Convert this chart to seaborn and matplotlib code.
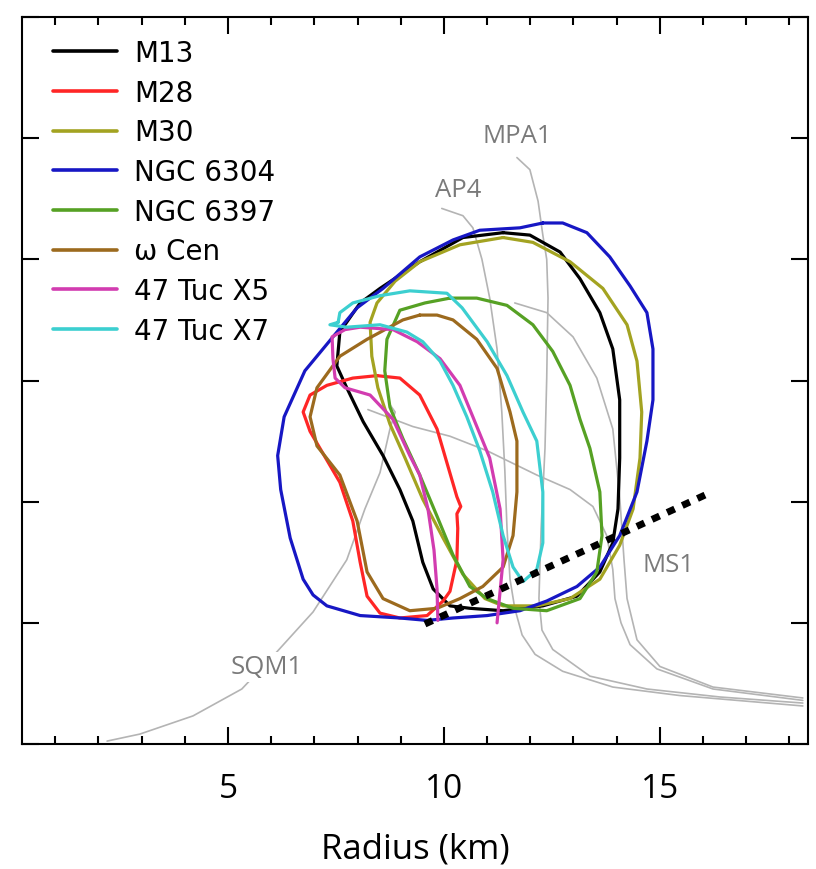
import numpy as np
import pandas as pd
import matplotlib
matplotlib.use("Agg")
import matplotlib.pyplot as plt
from matplotlib.ticker import MultipleLocator
from matplotlib.lines import Line2D
import seaborn as sns

# ---------------- data (Radius km, Mass Msun) ----------------
names = ["M13", "M28", "M30", "NGC 6304", "NGC 6397", "ω Cen", "47 Tuc X5", "47 Tuc X7"]
colors = ["#000000", "#ff2626", "#a3a321", "#1717c4", "#56a124", "#9c6a1e", "#d23cb0", "#3ccfd0"]
closed = [True, True, True, True, True, True, False, True]

m13_R = [11.37, 11.99, 12.69, 13.15, 13.61, 13.91, 14.07, 14.07, 14.03, 13.91, 13.61, 13.08, 12.29, 11.37,
         10.60, 10.14, 9.75, 9.51, 9.28, 8.98, 8.59, 8.13, 7.75, 7.52, 7.59, 8.06, 8.52, 9.44, 10.44]
m13_M = [2.11, 2.10, 2.03, 1.92, 1.78, 1.63, 1.42, 1.18, 0.97, 0.83, 0.71, 0.61, 0.57, 0.55,
         0.56, 0.57, 0.64, 0.75, 0.92, 1.05, 1.19, 1.33, 1.47, 1.56, 1.70, 1.82, 1.88, 1.99, 2.09]

m28_R = [8.45, 8.98, 9.44, 9.84, 10.07, 10.30, 10.39, 10.30, 10.32, 10.30, 10.14, 9.98, 9.61, 8.98,
         8.52, 8.22, 8.06, 7.89, 7.59, 7.13, 6.90, 6.74, 6.90, 7.29, 7.89]
m28_M = [1.52, 1.51, 1.44, 1.30, 1.16, 1.02, 0.98, 0.95, 0.89, 0.76, 0.63, 0.59, 0.53, 0.52,
         0.54, 0.61, 0.75, 0.92, 1.08, 1.22, 1.29, 1.37, 1.44, 1.48, 1.51]

m30_R = [11.37, 12.06, 12.92, 13.68, 14.24, 14.47, 14.58, 14.54, 14.38, 14.07, 13.61, 12.92, 12.15, 11.37,
         10.95, 10.44, 9.98, 9.51, 9.10, 8.75, 8.47, 8.33, 8.29, 8.45, 8.87, 9.44, 10.37]
m30_M = [2.09, 2.07, 1.99, 1.88, 1.73, 1.58, 1.37, 1.18, 0.97, 0.82, 0.68, 0.60, 0.57, 0.57,
         0.60, 0.70, 0.85, 1.01, 1.18, 1.32, 1.47, 1.60, 1.74, 1.82, 1.91, 1.99, 2.06]

n6304_R = [12.29, 12.75, 13.31, 13.84, 14.31, 14.70, 14.84, 14.84, 14.70, 14.47, 14.07, 13.61, 13.08, 12.38,
           11.76, 11.00, 10.21, 9.61, 8.98, 8.06, 7.29, 6.97, 6.74, 6.44, 6.22, 6.15, 6.30, 6.78, 7.43, 7.99,
           8.59, 9.44, 10.21, 10.83, 11.76]
n6304_M = [2.15, 2.15, 2.11, 2.01, 1.89, 1.78, 1.63, 1.42, 1.25, 1.04, 0.86, 0.73, 0.65, 0.59,
           0.55, 0.53, 0.52, 0.51, 0.52, 0.53, 0.57, 0.615, 0.68, 0.85, 1.05, 1.19, 1.35, 1.54, 1.68, 1.80,
           1.88, 2.01, 2.08, 2.12, 2.13]

n6397_R = [10.14, 10.76, 11.46, 12.06, 12.52, 12.92, 13.15, 13.38, 13.61, 13.66, 13.54, 13.15, 12.38, 11.60,
           11.00, 10.60, 10.21, 9.84, 9.44, 9.05, 8.75, 8.63, 8.68, 8.98, 9.56]
n6397_M = [1.84, 1.84, 1.81, 1.73, 1.62, 1.48, 1.34, 1.22, 1.04, 0.86, 0.71, 0.60, 0.55, 0.56,
           0.60, 0.65, 0.78, 0.94, 1.11, 1.26, 1.39, 1.54, 1.67, 1.79, 1.82]

wcen_R = [9.44, 9.84, 10.21, 10.76, 11.23, 11.53, 11.69, 11.69, 11.60, 11.37, 10.90, 10.37, 9.84, 9.21,
          8.59, 8.22, 7.99, 7.59, 7.06, 6.90, 7.06, 7.59, 8.22, 9.05]
wcen_M = [1.77, 1.77, 1.75, 1.67, 1.55, 1.37, 1.25, 1.04, 0.86, 0.73, 0.65, 0.60, 0.56, 0.55,
          0.60, 0.71, 0.92, 1.11, 1.23, 1.35, 1.47, 1.60, 1.67, 1.75]

x5_R = [9.86, 9.84, 9.77, 9.63, 9.44, 9.21, 8.82, 8.29, 7.71, 7.48, 7.43, 7.41, 7.71, 8.06, 8.82, 9.38,
        9.91, 10.37, 10.67, 11.06, 11.30, 11.37, 11.30, 11.23]
x5_M = [0.51, 0.64, 0.80, 0.97, 1.11, 1.19, 1.34, 1.44, 1.47, 1.51, 1.59, 1.68, 1.71, 1.72, 1.71, 1.66,
        1.59, 1.48, 1.35, 1.18, 0.97, 0.76, 0.63, 0.50]

x7_R = [7.55, 7.59, 7.89, 8.52, 9.21, 10.07, 10.42, 11.00, 11.46, 11.83, 12.15, 12.29, 12.29, 12.15, 11.83,
        11.60, 11.37, 11.13, 10.83, 10.53, 10.21, 9.91, 9.51, 9.14, 8.52, 7.75, 7.36]
x7_M = [1.74, 1.78, 1.82, 1.85, 1.87, 1.86, 1.80, 1.66, 1.52, 1.37, 1.25, 1.04, 0.83, 0.72, 0.67,
        0.73, 0.86, 1.04, 1.21, 1.35, 1.48, 1.58, 1.66, 1.70, 1.73, 1.72, 1.73]

contour_R = [m13_R, m28_R, m30_R, n6304_R, n6397_R, wcen_R, x5_R, x7_R]
contour_M = [m13_M, m28_M, m30_M, n6304_M, n6397_M, wcen_M, x5_M, x7_M]

# equation-of-state curves
ap4_R = [9.95, 10.44, 10.67, 10.88, 11.06, 11.23, 11.34, 11.41, 11.46, 11.53, 11.64, 11.81, 12.11, 12.75, 13.91, 15.46, 18.31]
ap4_M = [2.21, 2.18, 2.13, 2.00, 1.84, 1.63, 1.37, 1.13, 0.89, 0.68, 0.56, 0.45, 0.37, 0.30, 0.235, 0.20, 0.157]
mpa1_R = [11.69, 11.99, 12.18, 12.29, 12.38, 12.41, 12.38, 12.34, 12.25, 12.20, 12.27, 12.52, 13.38, 14.70, 16.39, 18.31]
mpa1_M = [2.42, 2.37, 2.24, 2.10, 2.00, 1.84, 1.51, 1.22, 0.89, 0.60, 0.47, 0.39, 0.28, 0.227, 0.194, 0.169]
ms1_R = [11.64, 12.38, 12.99, 13.54, 13.91, 14.07, 14.17, 14.24, 14.47, 15.00, 16.23, 18.31]
ms1_M = [1.82, 1.78, 1.68, 1.51, 1.30, 1.02, 0.76, 0.60, 0.43, 0.32, 0.235, 0.19]
eos5_R = [8.24, 9.28, 10.14, 11.00, 12.15, 12.92, 13.45, 13.77, 13.91, 13.96, 14.10, 14.31, 14.93, 16.23, 18.31]
eos5_M = [1.38, 1.31, 1.27, 1.21, 1.11, 1.05, 0.98, 0.86, 0.72, 0.60, 0.50, 0.41, 0.31, 0.227, 0.18]
sqm1_R = [2.20, 2.96, 4.19, 5.32, 6.13, 6.97, 7.75, 8.17, 8.52, 8.75, 8.87, 8.75]
sqm1_M = [0.012, 0.041, 0.116, 0.227, 0.38, 0.545, 0.76, 0.97, 1.12, 1.30, 1.37, 1.40]

eos_R = [ap4_R, mpa1_R, ms1_R, eos5_R, sqm1_R]
eos_M = [ap4_M, mpa1_M, ms1_M, eos5_M, sqm1_M]

eos_labels = ["MPA1", "AP4", "MS1", "SQM1"]
eos_label_R = [11.69, 10.32, 15.19, 5.90]
eos_label_M = [2.51, 2.29, 0.74, 0.318]

dotted_R = [9.56, 16.20]
dotted_M = [0.495, 1.04]

x_ticks = [5, 10, 15]

# ---------------- figure ----------------
sns.set_style("ticks")
plt.rcParams["font.family"] = ["DejaVu Sans"]
plt.rcParams["text.color"] = "black"
plt.rcParams["xtick.color"] = "black"
plt.rcParams["axes.labelcolor"] = "black"

fig = plt.figure(figsize=(8.16, 8.7), dpi=100)
ax = fig.add_axes([22 / 816, 1 - 745 / 870, (808 - 22) / 816, (745 - 18) / 870])

gray = "#b4b4b4"
for R, M in zip(eos_R, eos_M):
    sns.lineplot(x=R, y=M, sort=False, estimator=None, color=gray, lw=1.2, ax=ax, zorder=1,
                 solid_joinstyle="round")

for R, M, c, cl in zip(contour_R, contour_M, colors, closed):
    R = list(R)
    M = list(M)
    if cl:
        R = R + R[:1]
        M = M + M[:1]
    sns.lineplot(x=R, y=M, sort=False, estimator=None, color=c, lw=2.3, ax=ax, zorder=3,
                 solid_joinstyle="round")

sns.lineplot(x=dotted_R, y=dotted_M, sort=False, estimator=None, color="black", lw=5,
             linestyle=(0, (1.2, 1.2)), ax=ax, zorder=5)
ax.lines[-1].set_dash_capstyle("butt")

for t, r, m in zip(eos_labels, eos_label_R, eos_label_M):
    kw = {}
    if t == "SQM1":
        kw["bbox"] = dict(facecolor="white", edgecolor="none", pad=2)
    ax.text(r, m, t, ha="center", va="center", fontsize=18.5, color="#7a7a7a",
            family=["Open Sans", "DejaVu Sans"], zorder=4, **kw)

ax.set_xlim(0.23, 18.43)
ax.set_ylim(0, 3.0)
ax.xaxis.set_major_locator(MultipleLocator(5))
ax.xaxis.set_minor_locator(MultipleLocator(1))
ax.yaxis.set_major_locator(MultipleLocator(0.5))
ax.set_xticks(x_ticks)
ax.set_yticklabels([])
ax.tick_params(which="both", direction="in", top=True, right=True, color="black", width=1.5)
ax.tick_params(which="major", length=12)
ax.tick_params(which="minor", length=6)
ax.tick_params(axis="y", which="minor", left=False, right=False)
ax.tick_params(axis="x", which="major", pad=20, labelsize=24, labelcolor="black")
for lab in ax.get_xticklabels():
    lab.set_family(["Open Sans", "DejaVu Sans"])
for s in ax.spines.values():
    s.set_linewidth(1.5)
    s.set_color("black")

ax.set_xlabel("Radius (km)", fontsize=25, family=["Open Sans", "DejaVu Sans"], labelpad=19,
              color="black")
ax.set_ylabel("")

handles = [Line2D([0], [0], color=c, lw=2.6) for c in colors]
leg = ax.legend(handles, names, loc="upper left", bbox_to_anchor=(53 / 816, 1 - 40 / 870),
                bbox_transform=fig.transFigure, frameon=False, fontsize=20,
                handlelength=2.3, handletextpad=0.62, labelspacing=0.42, borderpad=0, borderaxespad=0)
for txt in leg.get_texts():
    txt.set_color("black")

fig.savefig("out.png", dpi=100)
